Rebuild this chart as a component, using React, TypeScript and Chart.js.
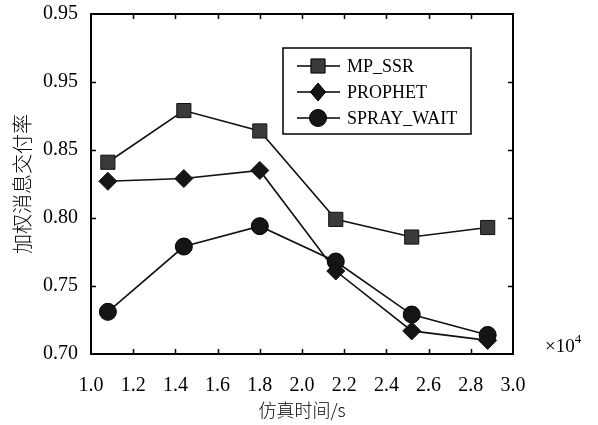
import React, { useEffect, useRef } from "react";
import { Chart, registerables } from "chart.js";

Chart.register(...registerables);

const xValues = [1.08, 1.44, 1.8, 2.16, 2.52, 2.88];
const seriesNames = ["MP_SSR", "PROPHET", "SPRAY_WAIT"];
const mpSsr = [0.841, 0.879, 0.864, 0.799, 0.786, 0.793];
const prophet = [0.827, 0.829, 0.835, 0.761, 0.717, 0.710];
const sprayWait = [0.731, 0.779, 0.794, 0.768, 0.729, 0.714];
const yTickLabels = ["0.70", "0.75", "0.80", "0.85", "0.95", "0.95"];
const xTickLabels = ["1.0", "1.2", "1.4", "1.6", "1.8", "2.0", "2.2", "2.4", "2.6", "2.8", "3.0"];
const xTitle = "仿真时间/s";
const yTitle = "加权消息交付率";
const xExponent = "4";

const SERIF = "'Liberation Serif', 'DejaVu Serif', serif";
const CJK = "'Noto Sans CJK SC', sans-serif";

const framePlugin = {
  id: "frame",
  afterDraw(chart: any) {
    const ctx = chart.ctx;
    const { left, right, top, bottom } = chart.chartArea;
    ctx.save();
    ctx.strokeStyle = "#000";
    ctx.lineWidth = 2;
    ctx.strokeRect(left, top, right - left, bottom - top);
    ctx.lineWidth = 1.5;
    const xs = chart.scales.x;
    const ys = chart.scales.y;
    const tl = 5;
    xs.ticks.forEach((t: any, i: number) => {
      if (i === 0 || i === xs.ticks.length - 1) return;
      const px = Math.round(xs.getPixelForValue(t.value)) + 0.5;
      ctx.beginPath();
      ctx.moveTo(px, bottom);
      ctx.lineTo(px, bottom - tl);
      ctx.moveTo(px, top);
      ctx.lineTo(px, top + tl);
      ctx.stroke();
    });
    ys.ticks.forEach((t: any, i: number) => {
      if (i === 0 || i === ys.ticks.length - 1) return;
      const py = Math.round(ys.getPixelForValue(t.value)) + 0.5;
      ctx.beginPath();
      ctx.moveTo(left, py);
      ctx.lineTo(left + tl, py);
      ctx.moveTo(right, py);
      ctx.lineTo(right - tl, py);
      ctx.stroke();
    });
    // x10^4 multiplier
    ctx.fillStyle = "#000";
    ctx.textBaseline = "alphabetic";
    ctx.textAlign = "left";
    ctx.font = "19px " + SERIF;
    const mx = right + 32;
    const my = bottom - 2;
    ctx.fillText("×10", mx, my);
    const w = ctx.measureText("×10").width;
    ctx.font = "13px " + SERIF;
    ctx.fillText(xExponent, mx + w, my - 9);

    // legend
    const bx = 283, by = 48, bw = 188, bh = 86;
    ctx.fillStyle = "#fff";
    ctx.fillRect(bx, by, bw, bh);
    ctx.lineWidth = 1.5;
    ctx.strokeStyle = "#000";
    ctx.strokeRect(bx, by, bw, bh);
    const rows = [66, 92, 118];
    chart.data.datasets.forEach((ds: any, i: number) => {
      const ry = rows[i];
      ctx.strokeStyle = "#000";
      ctx.lineWidth = 1.5;
      ctx.beginPath();
      ctx.moveTo(bx + 14, ry);
      ctx.lineTo(bx + 57, ry);
      ctx.stroke();
      ctx.fillStyle = ds.pointBackgroundColor;
      ctx.strokeStyle = "#000";
      ctx.lineWidth = 1;
      const cx = bx + 35;
      const r = ds.pointRadius;
      ctx.beginPath();
      if (ds.pointStyle === "rect") {
        const h = r * Math.SQRT1_2;
        ctx.rect(cx - h, ry - h, 2 * h, 2 * h);
      } else if (ds.pointStyle === "rectRot") {
        ctx.moveTo(cx, ry - r);
        ctx.lineTo(cx + r * 0.85, ry);
        ctx.lineTo(cx, ry + r);
        ctx.lineTo(cx - r * 0.85, ry);
        ctx.closePath();
      } else {
        ctx.arc(cx, ry, r, 0, Math.PI * 2);
      }
      ctx.fill();
      ctx.stroke();
      ctx.fillStyle = "#000";
      ctx.font = "18px " + SERIF;
      ctx.textBaseline = "middle";
      ctx.fillText(ds.label, bx + 64, ry + 1);
    });
    ctx.restore();
  },
};

export default function App() {
  const ref = useRef<HTMLCanvasElement>(null);
  useEffect(() => {
    document.body.style.margin = "0";
    const mk = (data: number[]) => data.map((y, i) => ({ x: xValues[i], y }));
    const chart = new Chart(ref.current!, {
      type: "line",
      data: {
        datasets: [
          {
            label: seriesNames[0],
            data: mk(mpSsr),
            borderColor: "#111",
            borderWidth: 1.6,
            pointStyle: "rect",
            pointRadius: 10,
            pointBackgroundColor: "#3a3a3a",
            pointBorderColor: "#111",
            pointBorderWidth: 1,
          },
          {
            label: seriesNames[1],
            data: mk(prophet),
            borderColor: "#111",
            borderWidth: 1.6,
            pointStyle: "rectRot",
            pointRadius: 9,
            pointBackgroundColor: "#151515",
            pointBorderColor: "#111",
            pointBorderWidth: 1,
          },
          {
            label: seriesNames[2],
            data: mk(sprayWait),
            borderColor: "#111",
            borderWidth: 1.6,
            pointStyle: "circle",
            pointRadius: 8.5,
            pointBackgroundColor: "#151515",
            pointBorderColor: "#000",
            pointBorderWidth: 1,
          },
        ] as any,
      },
      options: {
        animation: false,
        responsive: false,
        devicePixelRatio: 1,
        layout: { padding: { left: 0, right: 85, top: 14, bottom: 0 } },
        plugins: { legend: { display: false }, tooltip: { enabled: false } },
        scales: {
          x: {
            type: "linear",
            min: 1.0,
            max: 3.0,
            afterFit: (s: any) => { s.height = 71; s.paddingLeft = 0; s.paddingRight = 0; },
            grid: { display: false, drawTicks: false },
            border: { display: false },
            ticks: {
              stepSize: 0.2,
              padding: 20,
              color: "#000",
              font: { family: SERIF, size: 20 },
              maxRotation: 0,
              autoSkip: false,
              callback: (_v: any, i: number) => xTickLabels[i],
            },
            title: {
              display: true,
              text: xTitle,
              color: "#000",
              font: { family: CJK, size: 18, weight: "300" as any },
              padding: { top: 0, bottom: 4 },
            },
          },
          y: {
            type: "linear",
            min: 0.7,
            max: 0.95,
            afterFit: (s: any) => { s.width = 91; s.paddingTop = 0; s.paddingBottom = 0; },
            grid: { display: false, drawTicks: false },
            border: { display: false },
            ticks: {
              stepSize: 0.05,
              padding: 13,
              color: "#000",
              font: { family: SERIF, size: 20 },
              autoSkip: false,
              callback: (_v: any, i: number) => yTickLabels[i],
            },
            title: {
              display: true,
              text: yTitle,
              color: "#000",
              font: { family: CJK, size: 20, weight: "300" as any },
              padding: { top: 10, bottom: 0 },
            },
          },
        },
      },
      plugins: [framePlugin],
    });
    return () => chart.destroy();
  }, []);
  return <canvas ref={ref} width={598} height={425} style={{ display: "block" }} />;
}
